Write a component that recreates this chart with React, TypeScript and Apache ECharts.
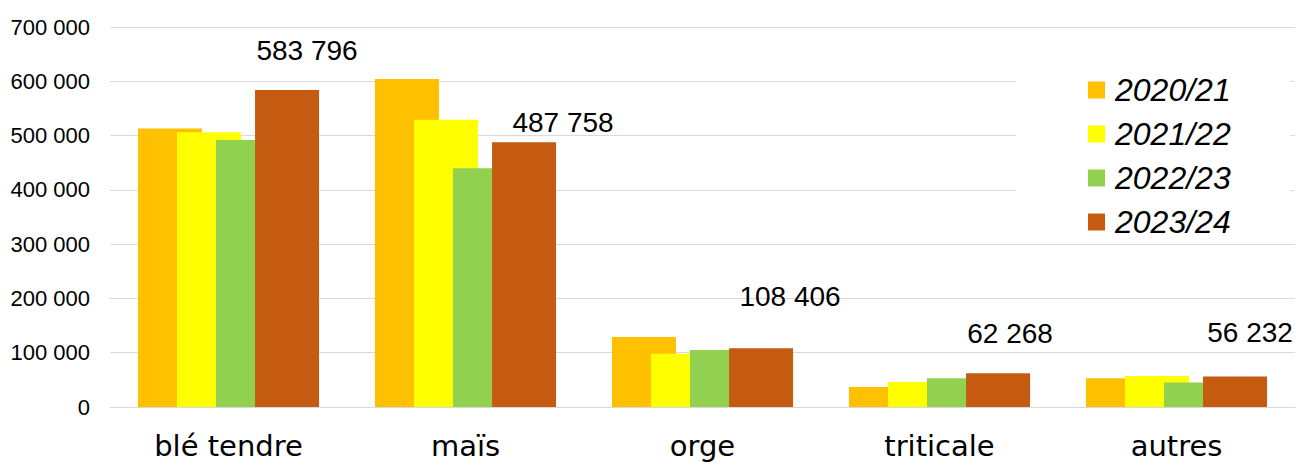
import React, { useEffect, useRef } from "react";
import * as echarts from "echarts";

const categories = ["blé tendre", "maïs", "orge", "triticale", "autres"];
const seriesNames = ["2020/21", "2021/22", "2022/23", "2023/24"];
const values2020 = [513000, 604000, 129000, 37000, 53000];
const values2021 = [506000, 529000, 98000, 46000, 57000];
const values2022 = [492000, 440000, 105000, 53000, 45000];
const values2023 = [583796, 487758, 108406, 62268, 56232];
const colors = ["#FFC000", "#FFFF00", "#92D050", "#C55A11"];
const yTicks = { min: 0, max: 700000, interval: 100000 };
// label offsets (style only) for the 2023/24 value labels
const labelOffsets: [number, number][] = [
  [20, -21],
  [39, -1],
  [29, -33],
  [12, -21],
  [15, -25],
];

const fmt = (v: number) =>
  String(Math.round(v)).replace(/\B(?=(\d{3})+(?!\d))/g, " ");

export default function App() {
  const ref = useRef<HTMLDivElement>(null);
  useEffect(() => {
    if (!ref.current) return;
    const chart = echarts.init(ref.current, undefined, { renderer: "svg" });
    const all = [values2020, values2021, values2022, values2023];
    const series = all.map((vals, i) => ({
      name: seriesNames[i],
      type: "bar",
      barWidth: 64,
      barGap: "-39%",
      itemStyle: { color: colors[i] },
      data:
        i === 3
          ? vals.map((v, k) => ({
              value: v,
              label: {
                show: true,
                position: "top",
                offset: labelOffsets[k],
                formatter: (p: any) => fmt(p.value),
                fontFamily: "Liberation Sans, Arial, sans-serif",
                fontSize: 28,
                color: "#000",
              },
            }))
          : vals,
    }));
    chart.setOption({
      animation: false,
      backgroundColor: "#fff",
      grid: { left: 110, right: 1, top: 27, bottom: 58, containLabel: false },
      legend: {
        orient: "vertical",
        left: 1016,
        top: 30,
        padding: [44, 60, 3, 72],
        backgroundColor: "#fff",
        itemWidth: 17,
        itemHeight: 17,
        itemGap: 12,
        icon: "rect",
        data: seriesNames,
        textStyle: {
          fontFamily: "Liberation Sans, Arial, sans-serif",
          fontStyle: "italic",
          fontSize: 32,
          lineHeight: 32,
          color: "#000",
          padding: [0, 0, 0, 5],
        },
      },
      xAxis: {
        type: "category",
        data: categories,
        axisLine: { show: true, lineStyle: { color: "#d9d9d9", width: 1 } },
        axisTick: { show: false },
        axisLabel: {
          margin: 24,
          fontFamily: "DejaVu Sans, Verdana, sans-serif",
          fontSize: 29,
          lineHeight: 30,
          color: "#000",
        },
      },
      yAxis: {
        type: "value",
        min: yTicks.min,
        max: yTicks.max,
        interval: yTicks.interval,
        axisLine: { show: false },
        axisTick: { show: false },
        splitLine: { lineStyle: { color: "#d9d9d9", width: 1 } },
        axisLabel: {
          margin: 20,
          formatter: (v: number) => fmt(v),
          fontFamily: "Liberation Sans, Arial, sans-serif",
          fontSize: 22,
          color: "#000",
        },
      },
      series,
    });
    return () => chart.dispose();
  }, []);
  return (
    <div
      ref={ref}
      style={{ position: "fixed", left: 0, top: 0, width: 1296, height: 465 }}
    />
  );
}
